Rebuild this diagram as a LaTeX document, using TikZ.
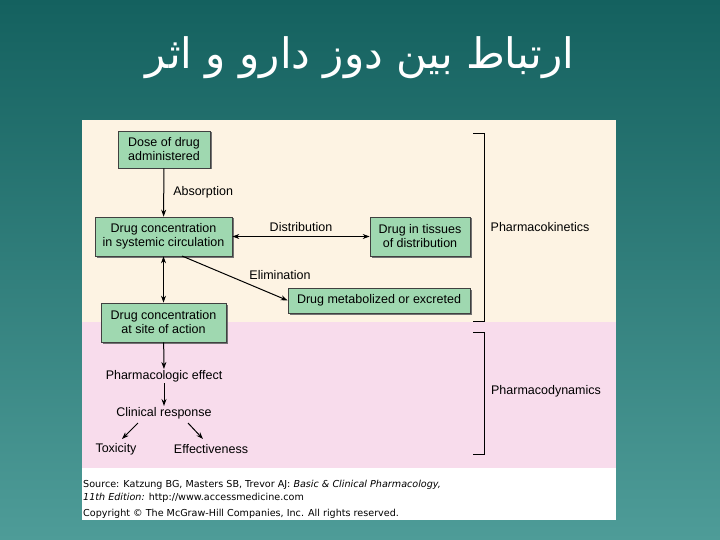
\documentclass[tikz,border=0pt]{standalone}
\usepackage{fontspec}
\setmainfont{Liberation Sans}
\newfontfamily\arabicfont[Script=Arabic]{DejaVu Sans}
\newfontfamily\vfont{DejaVu Sans}
\TeXXeTstate=1
\usetikzlibrary{arrows.meta,shadows}
\definecolor{boxg}{HTML}{9FD8B0}
\definecolor{cream}{HTML}{FDF3E3}
\definecolor{pinkb}{HTML}{F8DCEC}
\definecolor{tealtop}{HTML}{14615F}
\definecolor{tealbot}{HTML}{4E9C98}
\tikzset{
 gbox/.style={draw=black!75,fill=boxg,line width=0.7pt,align=center,font=\fontsize{12.5}{14}\selectfont,inner sep=0pt,
   drop shadow={shadow xshift=1.5pt,shadow yshift=-1.5pt,fill=black!55,opacity=1}},
 lab/.style={font=\fontsize{12.5}{14}\selectfont,inner sep=1pt},
 arr/.style={-{Stealth[length=7pt,width=5pt]},line width=1pt},
 darr/.style={{Stealth[length=7pt,width=5pt]}-{Stealth[length=7pt,width=5pt]},line width=1pt}
}
\begin{document}
\begin{tikzpicture}[x=1pt,y=-1pt]
\shade[top color=tealtop,bottom color=tealbot] (0,0) rectangle (720,540);
\useasboundingbox (0,0) rectangle (720,540);
\fill[cream] (82,120) rectangle (616,322);
\fill[pinkb] (82,322) rectangle (616,468);
\fill[white] (82,468) rectangle (616,520);
\node (title) [text=white,font=\arabicfont\fontsize{42}{44}\selectfont] at (360,58) {\beginR ارتباط بین دوز دارو و اثر\endR};
\node (dose) [gbox,minimum width=92pt,minimum height=37pt] at (164,149.5) {Dose of drug\\administered};
\node (sys) [gbox,minimum width=137pt,minimum height=39pt] at (163.5,236.5) {Drug concentration\\in systemic circulation};
\node (tis) [gbox,minimum width=100pt,minimum height=39pt] at (420,236.5) {Drug in tissues\\of distribution};
\node (met) [gbox,minimum width=182pt,minimum height=25pt] at (379,300.5) {Drug metabolized or excreted};
\node (site) [gbox,minimum width=125pt,minimum height=39pt] at (163.5,322.5) {Drug concentration\\at site of action};
\node (eff) [lab] at (164,376) {Pharmacologic effect};
\node (cli) [lab] at (164,413) {Clinical response};
\node (tox) [lab] at (116,449) {Toxicity};
\node (efv) [lab] at (211,449) {Effectiveness};
\coordinate (e0) at (182,256);
\coordinate (c1) at (138,423);
\coordinate (t1) at (122,439);
\coordinate (c2) at (188,423);
\coordinate (t2) at (203,439);
\draw[arr] (dose) -- (sys) node[lab,midway,right=8pt] {Absorption};
\draw[darr] (sys) -- (tis) node[lab,midway,above=3pt] {Distribution};
\draw[arr] (e0) -- (met.west);
\node (elim) [lab] at (280,275) {Elimination};
\draw[darr] (sys) -- (site);
\draw[arr] (site) -- (eff);
\draw[arr] (eff) -- (cli);
\draw[arr] (c1) -- (t1);
\draw[arr] (c2) -- (t2);
\draw[line width=0.8pt] (473,133) -- (484,133) -- (484,321) -- (473,321);
\draw[line width=0.8pt] (473,332) -- (484,332) -- (484,454) -- (473,454);
\node (pk) [lab] at (540,227) {Pharmacokinetics};
\node (pd) [lab] at (546,391) {Pharmacodynamics};
\node (src) [anchor=north west,align=left,inner sep=0pt,font=\vfont\fontsize{9.6}{13}\selectfont] at (83,480) {Source: Katzung BG, Masters SB, Trevor AJ: \textit{Basic \& Clinical Pharmacology,}\\\textit{11th Edition:} http://www.accessmedicine.com};
\node (cp) [anchor=north west,inner sep=0pt,font=\vfont\fontsize{9.6}{11}\selectfont] at (83,509) {Copyright © The McGraw-Hill Companies, Inc. All rights reserved.};
\end{tikzpicture}
\end{document}
